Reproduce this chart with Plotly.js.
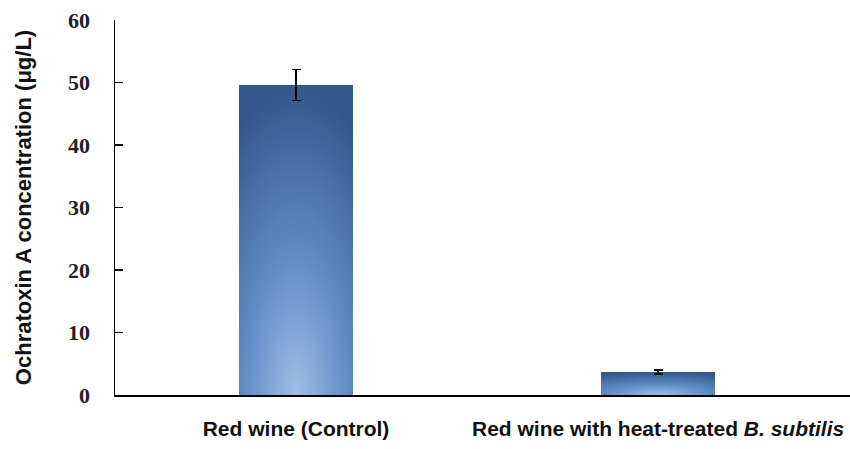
<!DOCTYPE html>
<html>
<head>
<meta charset="utf-8">
<script src="https://cdn.plot.ly/plotly-3.0.1.min.js"></script>
<style>
  html, body { margin: 0; padding: 0; background: #fff; }
  #chart { width: 850px; height: 449px; }
</style>
</head>
<body>
<div id="chart"></div>
<script>
// valores
const categorias = ['Red wine (Control)', 'Red wine with heat-treated <i>B. subtilis</i>'];
const concentracion = [49.6, 3.7];
const errores = [2.5, 0.3];
const ticksY = [0, 10, 20, 30, 40, 50, 60];

const barras = {
    x: [0, 1],
    y: concentracion,
    type: 'bar',
    width: 0.317,
    marker: { color: '#4f7db8', line: { width: 0 } },
    error_y: { type: 'data', array: errores, visible: true, color: '#000', thickness: 1.5, width: 4.5 },
    hoverinfo: 'none'
};

const layout = {
    width: 850,
    height: 449,
    margin: { l: 115, r: 0, t: 20, b: 54 },
    paper_bgcolor: '#fff',
    plot_bgcolor: '#fff',
    showlegend: false,
    bargap: 0,
    xaxis: {
        range: [-0.5, 1.53],
        tickvals: [0, 1],
        ticktext: categorias,
        showline: true,
        linecolor: '#000',
        linewidth: 1.5,
        showgrid: false,
        zeroline: false,
        ticks: 'outside',
        ticklen: 14,
        tickcolor: 'rgba(0,0,0,0)',
        ticklabeloverflow: 'allow',
        tickfont: { family: 'Liberation Sans, Arial', size: 21, color: '#111', weight: 'bold' }
    },
    yaxis: {
        range: [0, 60],
        tickvals: ticksY,
        showline: true,
        linecolor: '#000',
        linewidth: 1.5,
        showgrid: false,
        zeroline: false,
        ticks: 'inside',
        ticklen: 8,
        tickwidth: 1.2,
        tickcolor: '#000',
        ticklabelstandoff: 19,
        tickfont: { family: 'Liberation Serif, Times New Roman', size: 22, color: '#222', weight: 'bold' },
        title: {
            text: 'Ochratoxin A concentration (μg/L)',
            standoff: 30,
            font: { family: 'Liberation Sans, Arial', size: 22, color: '#111', weight: 'bold' }
        }
    }
};

// degradado radial como en la figura original (Excel)
function aplicarDegradado(gd) {
    const svgNS = 'http://www.w3.org/2000/svg';
    const defs = gd.querySelector('.main-svg defs');
    const grad = document.createElementNS(svgNS, 'radialGradient');
    grad.setAttribute('id', 'degradadoBarra');
    grad.setAttribute('cx', '0.5');
    grad.setAttribute('cy', '1');
    grad.setAttribute('r', '1');
    const stops = [[0, '#a0bde4'], [0.45, '#5f8cc6'], [1, '#33588a']];
    stops.forEach(([off, col]) => {
        const s = document.createElementNS(svgNS, 'stop');
        s.setAttribute('offset', off);
        s.setAttribute('stop-color', col);
        grad.appendChild(s);
    });
    defs.appendChild(grad);
    gd.querySelectorAll('.trace.bars .point path').forEach(p => {
        p.style.fill = 'url(#degradadoBarra)';
    });
}

Plotly.newPlot('chart', [barras], layout, { staticPlot: true }).then(aplicarDegradado);
</script>
</body>
</html>
